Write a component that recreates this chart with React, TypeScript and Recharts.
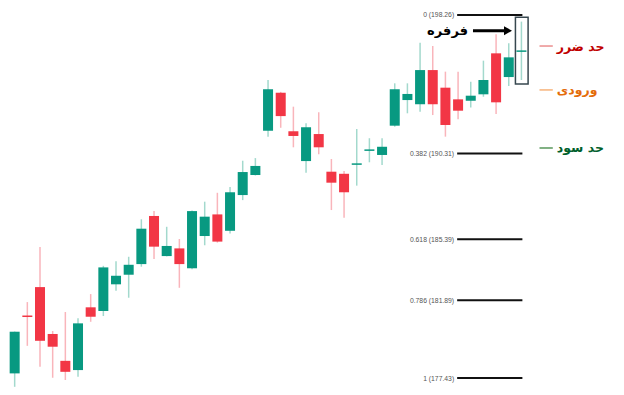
import { ComposedChart, Bar, XAxis, YAxis, ReferenceLine, ReferenceArea } from "recharts";

// candle values, oldest first
const opens = [
    177.70, 181.02, 182.65, 179.96, 178.42, 177.89, 181.49, 181.28, 182.81, 183.36,
    183.97, 186.73, 184.43, 184.87, 183.73, 185.58, 186.82, 185.88, 187.93, 189.08,
    191.62, 193.80, 191.59, 189.88, 191.43, 189.27, 189.15, 189.67, 190.47, 190.23,
    191.91, 193.38, 193.14, 195.10, 194.09, 193.42, 193.34, 193.71, 196.06, 194.70,
    196.19,
];
const highs = [
    180.10, 181.79, 184.95, 180.13, 181.22, 180.87, 182.25, 183.87, 184.14, 184.39,
    186.54, 187.01, 186.11, 185.41, 187.05, 187.55, 188.06, 188.39, 189.90, 190.05,
    194.53, 193.85, 193.00, 192.05, 192.68, 190.00, 189.31, 191.72, 191.19, 191.19,
    194.34, 194.34, 196.67, 196.48, 195.01, 195.01, 194.43, 195.64, 197.15, 196.64,
    197.88,
];
const lows = [
    176.93, 179.28, 178.08, 177.45, 177.32, 177.51, 180.66, 180.99, 182.44, 182.04,
    183.82, 184.26, 184.41, 182.61, 183.68, 185.05, 185.20, 185.73, 187.64, 189.05,
    191.28, 191.79, 190.67, 189.21, 190.27, 187.07, 186.63, 188.47, 189.81, 189.65,
    191.85, 192.62, 192.71, 192.52, 191.28, 192.28, 192.96, 193.57, 192.58, 194.19,
    194.53,
];
const closes = [
    180.09, 180.97, 179.57, 179.23, 177.79, 180.57, 180.95, 183.78, 183.30, 183.93,
    186.00, 184.97, 185.01, 183.97, 187.01, 186.69, 185.26, 188.09, 189.25, 189.60,
    194.00, 192.46, 191.32, 191.82, 190.67, 188.64, 188.09, 189.75, 190.55, 190.70,
    194.00, 193.73, 195.10, 193.14, 191.95, 192.77, 193.63, 194.53, 193.25, 195.83,
    196.23,
];

const fibRatios = [0, 0.382, 0.618, 0.786, 1];
const fibPrices = [198.26, 190.31, 185.39, 181.89, 177.43];

const legendLabels = ["حد ضرر", "ورودی", "حد سود"];
const legendPrices = [196.48, 193.96, 190.63];
const legendTextColors = ["#c00000", "#e46c0a", "#00602b"];
const legendLineColors = ["#e57373", "#f5a05a", "#2e7d32"];

const pointerLabel = "فرفره";

const UP = "#089981";
const DOWN = "#f23645";
const UP_WICK = "#a3d9cd";
const DOWN_WICK = "#f9b5bb";

const data = opens.map((open, i) => ({
    i,
    open,
    high: highs[i],
    low: lows[i],
    close: closes[i],
}));

const last = data.length - 1;

// x positions (candle index units) for the drawings right of the candles
const FIB_FROM = 34.9;
const FIB_TO = 40.05;
const LEGEND_FROM = 41.4;
const LEGEND_TO = 42.45;
const ARROW_FROM = 36.15;
const ARROW_TO = 38.6;
const ARROW_PRICE = 197.36;

const Candle = (props: any) => {
    const { x, y, width, height, payload } = props;
    const { open, close, high, low } = payload;
    const top = Math.min(y, y + height);
    const h = Math.abs(height);
    const perUnit = h / (high - low);
    const py = (p: number) => top + (high - p) * perUnit;
    const up = close >= open;
    const cx = x + width / 2;
    const bodyTop = py(Math.max(open, close));
    const bodyH = Math.max(1.5, Math.abs(py(open) - py(close)));

    return (
        <g>
            <line x1={cx} x2={cx} y1={top} y2={top + h} stroke={up ? UP_WICK : DOWN_WICK} strokeWidth={1.5} />
            <rect x={x} y={bodyTop} width={width} height={bodyH} fill={up ? UP : DOWN} />
        </g>
    );
};

export default function App() {
    return (
        <div style={{ position: "absolute", left: 0, top: 0, background: "#fff" }}>
            <ComposedChart width={624} height={395} data={data} margin={{ top: 0, right: 0, bottom: 0, left: 0 }}>
                <XAxis type="number" dataKey="i" domain={[-1.184, 48.07]} hide allowDataOverflow />
                <YAxis type="number" domain={[176.46, 199.12]} hide allowDataOverflow />

                <Bar
                    dataKey={(d: any) => [d.low, d.high]}
                    barSize={10}
                    shape={<Candle />}
                    isAnimationActive={false}
                />

                {fibPrices.map((price, k) => (
                    <ReferenceLine
                        key={`fib-${k}`}
                        segment={[{ x: FIB_FROM, y: price }, { x: FIB_TO, y: price }]}
                        stroke="#111"
                        strokeWidth={2}
                        label={(p: any) => (
                            <text
                                x={p.viewBox.x - 3}
                                y={p.viewBox.y}
                                textAnchor="end"
                                dominantBaseline="central"
                                fontSize={6.8}
                                fontFamily="Liberation Sans, Arial, sans-serif"
                                fill="#555"
                            >
                                {`${fibRatios[k]} (${price.toFixed(2)})`}
                            </text>
                        )}
                    />
                ))}

                <ReferenceArea
                    x1={last - 0.5}
                    x2={last + 0.5}
                    y1={lows[last] - 0.23}
                    y2={highs[last] + 0.25}
                    fill="none"
                    fillOpacity={0}
                    stroke="#37474f"
                    strokeWidth={1.5}
                />

                <ReferenceLine
                    segment={[{ x: ARROW_FROM, y: ARROW_PRICE }, { x: ARROW_TO, y: ARROW_PRICE }]}
                    stroke="#000"
                    strokeWidth={3}
                    label={(p: any) => {
                        const { x, y, width } = p.viewBox;
                        const tip = x + width;
                        return (
                            <g>
                                <polygon points={`${tip},${y - 4.5} ${tip + 8},${y} ${tip},${y + 4.5}`} fill="#000" />
                                <text
                                    x={x - 5}
                                    y={y}
                                    textAnchor="end"
                                    dominantBaseline="central"
                                    fontSize={13}
                                    fontWeight="bold"
                                    fontFamily="DejaVu Sans, sans-serif"
                                    fill="#000"
                                >
                                    {pointerLabel}
                                </text>
                            </g>
                        );
                    }}
                />

                {legendLabels.map((label, k) => (
                    <ReferenceLine
                        key={`legend-${k}`}
                        segment={[{ x: LEGEND_FROM, y: legendPrices[k] }, { x: LEGEND_TO, y: legendPrices[k] }]}
                        stroke={legendLineColors[k]}
                        strokeWidth={1.2}
                        label={(p: any) => (
                            <text
                                x={p.viewBox.x + p.viewBox.width + 4}
                                y={p.viewBox.y}
                                textAnchor="start"
                                dominantBaseline="central"
                                fontSize={12.5}
                                fontWeight="bold"
                                fontFamily="DejaVu Sans, sans-serif"
                                fill={legendTextColors[k]}
                            >
                                {label}
                            </text>
                        )}
                    />
                ))}
            </ComposedChart>
        </div>
    );
}
